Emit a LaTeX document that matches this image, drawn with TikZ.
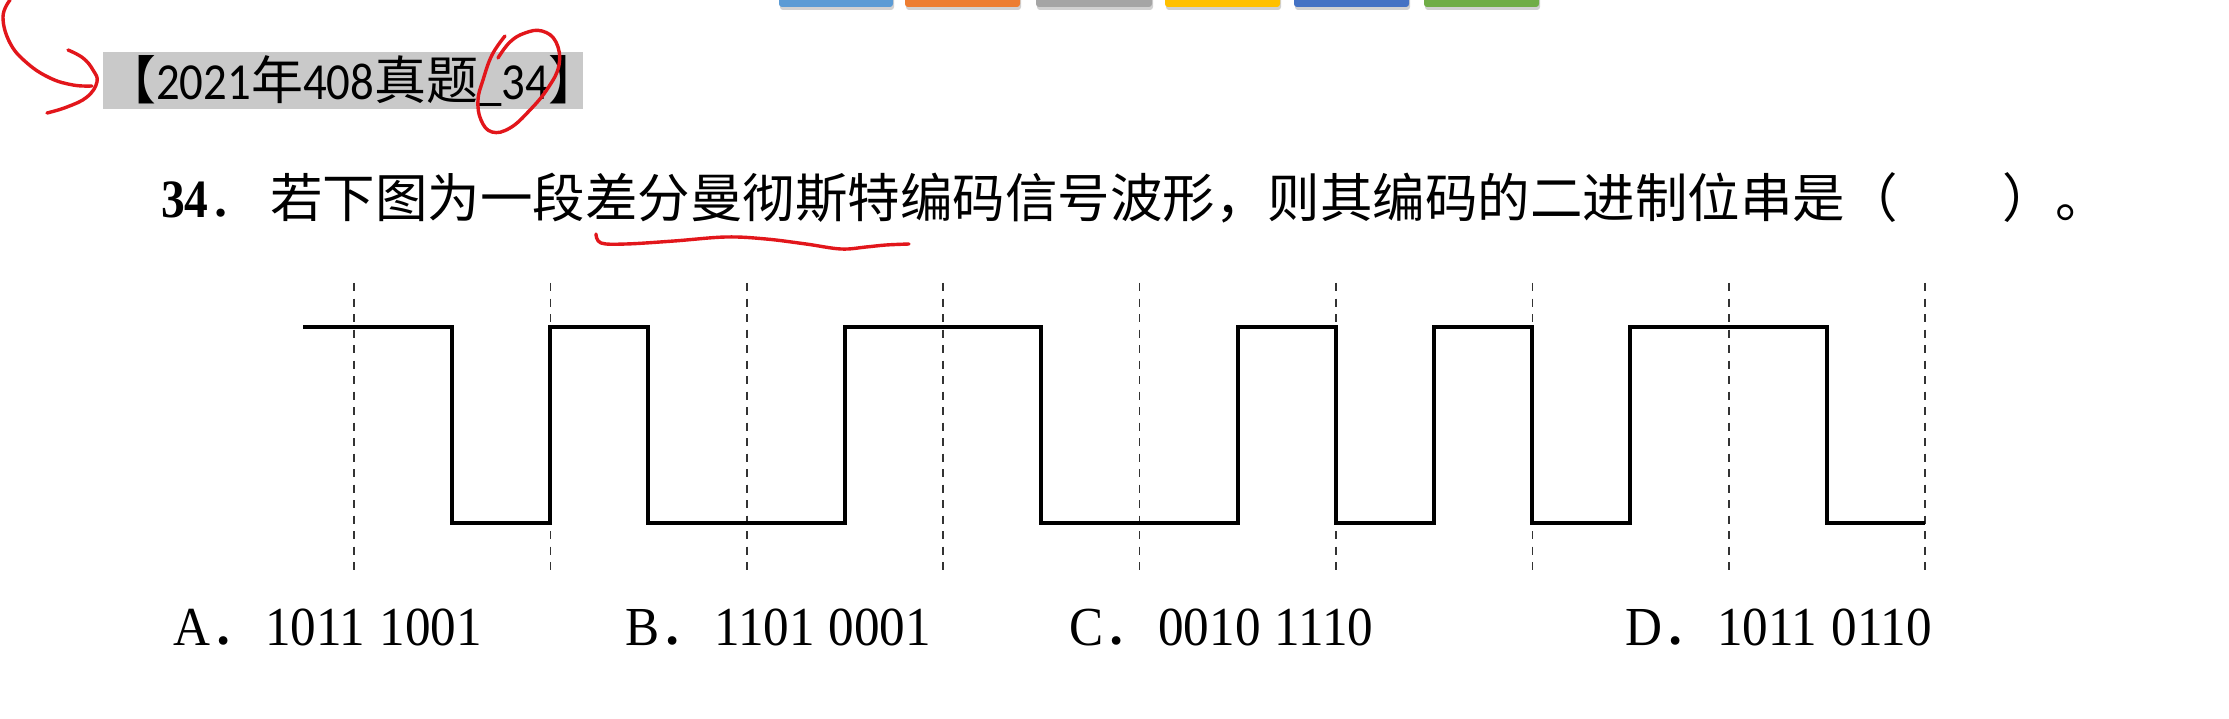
\documentclass[tikz,border=0pt]{standalone}
\usepackage{fontspec}
\setmainfont{Liberation Serif}
\newfontfamily\cjk{Noto Sans CJK SC}
\newfontfamily\latq[FakeStretch=0.88]{Liberation Serif}
\newfontfamily\latopt[FakeStretch=0.93,WordSpace=1.1]{Liberation Serif}
\newfontfamily\lattitle[FakeStretch=0.9]{Carlito}
\definecolor{penred}{HTML}{E2161B}
\definecolor{titlegray}{HTML}{C9C9C9}
\definecolor{barA}{HTML}{5B9BD5}
\definecolor{barB}{HTML}{ED7D31}
\definecolor{barC}{HTML}{A5A5A5}
\definecolor{barD}{HTML}{FFC000}
\definecolor{barE}{HTML}{4472C4}
\definecolor{barF}{HTML}{70AD47}
\tikzset{
  wave/.style={line width=4.5pt, line join=miter, black},
  gridline/.style={line width=1.7pt, draw=black!80, dash pattern=on 8pt off 7.5pt},
  pen/.style={line width=3.4pt, penred, line cap=round, line join=round},
  optnode/.style={anchor=base west, inner sep=0pt},
  tab/.style={rounded corners=3pt},
}
\begin{document}
\begin{tikzpicture}[x=1pt,y=-1pt]
\useasboundingbox (0,0) rectangle (2229,719);
\fill[white] (0,0) rectangle (2229,719);
% top tabs
\foreach \a/\b/\c in {779/893/barA, 905/1020/barB, 1036/1152/barC, 1165/1280/barD, 1294/1409/barE, 1424/1539/barF}{
  \fill[black!18, tab] (\a+1,-6) rectangle (\b+1,10);
  \fill[\c, tab] (\a,-6) rectangle (\b,7);
}
% title box
\fill[titlegray] (103,52) rectangle (583,109);
\node[anchor=base west, inner sep=0pt] (title) at (104,100)
  {\fontsize{52}{56}\selectfont\cjk 【\lattitle 2021\cjk 年\lattitle 408\cjk 真题\lattitle \_34\cjk 】};
% question
\node[anchor=base west, inner sep=0pt] (question) at (161,218)
  {\fontsize{54}{60}\selectfont{\latq\bfseries 34}\fontsize{52.5}{60}\selectfont\cjk ．\hspace{9pt}若下图为一段差分曼彻斯特编码信号波形，则其编码的二进制位串是（　　）。};
% dashed bit boundaries
\foreach \k in {0,...,8}{
  \draw[gridline] (354+196.4*\k,283) -- (354+196.4*\k,573);
}
% waveform
\def\H{327}\def\L{523}
\draw[wave] (303,\H) -- (452,\H) -- (452,\L) -- (550,\L) -- (550,\H) -- (648,\H) -- (648,\L)
  -- (845,\L) -- (845,\H) -- (1041,\H) -- (1041,\L) -- (1238,\L) -- (1238,\H) -- (1336,\H)
  -- (1336,\L) -- (1434,\L) -- (1434,\H) -- (1532,\H) -- (1532,\L) -- (1630,\L) -- (1630,\H)
  -- (1827,\H) -- (1827,\L) -- (1925,\L);
% options
\node[optnode] (optA) at (173,645) {\fontsize{55}{60}\selectfont\latopt A\cjk ．\latopt 1011 1001};
\node[optnode] (optB) at (625,645) {\fontsize{55}{60}\selectfont\latopt B\cjk ．\latopt 1101 0001};
\node[optnode] (optC) at (1069,645) {\fontsize{55}{60}\selectfont\latopt C\cjk ．\latopt 0010 1110};
\node[optnode] (optD) at (1625,645) {\fontsize{55}{60}\selectfont\latopt D\cjk ．\latopt 1011 0110};
% red annotations
\draw[pen] plot[smooth, tension=0.7] coordinates {(10,0) (3,17) (10,43) (27,63) (50,78) (73,85) (92,86)};
\draw[pen] plot[smooth, tension=0.7] coordinates {(68,50) (83,58) (93,70) (97,82) (87,97) (67,107) (47,113)};
\draw[pen] plot[smooth, tension=0.7] coordinates {(505,36) (492,55) (483,80) (478,100) (481,120) (492,132) (510,128) (530,110) (548,88) (559,65) (556,42) (542,31) (525,33) (510,42) (498,58)};
\draw[pen] plot[smooth, tension=0.6] coordinates {(596,234) (601,243) (626,244) (674,241) (726,237) (766,239) (806,244) (841,249) (866,247) (886,245) (909,244)};
\end{tikzpicture}
\end{document}
